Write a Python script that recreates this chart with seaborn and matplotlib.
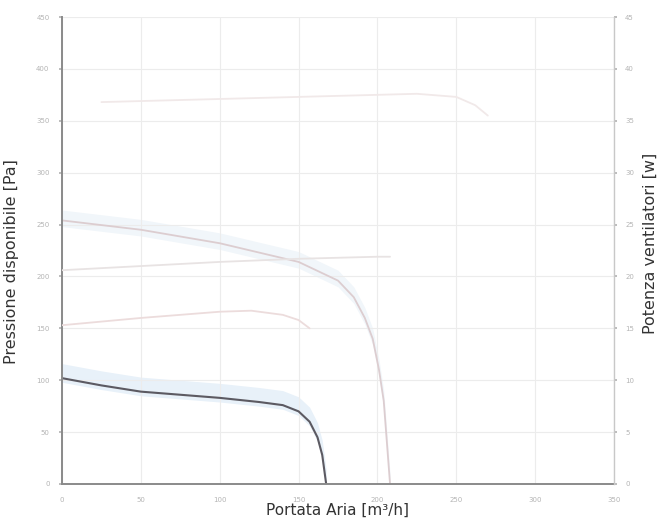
import matplotlib
matplotlib.use("Agg")
import matplotlib.pyplot as plt
import seaborn as sns
import pandas as pd
import numpy as np

# Pressure curves (left axis)
flow_low = [0, 25, 50, 75, 100, 125, 140, 150, 157, 162, 165, 167.5]
pres_low = [102, 95, 89, 86, 83, 79, 76, 70, 60, 45, 28, 0]

flow_high = [0, 50, 100, 150, 175, 185, 192, 197, 201, 204, 206, 208]
pres_high = [254, 245, 232, 214, 196, 180, 160, 140, 110, 80, 40, 0]

# Power curves (right axis)
flow_pw1 = [0, 50, 100, 120, 140, 150, 157]
pw1 = [15.3, 16.0, 16.6, 16.7, 16.3, 15.8, 15.0]

flow_pw2 = [0, 50, 100, 150, 200, 208]
pw2 = [20.6, 21.0, 21.4, 21.7, 21.9, 21.9]

flow_pw3 = [25, 75, 125, 175, 225, 250, 262, 270]
pw3 = [36.8, 37.0, 37.2, 37.4, 37.6, 37.3, 36.5, 35.5]

x_ticks = [0, 50, 100, 150, 200, 250, 300, 350]
y_ticks = [0, 50, 100, 150, 200, 250, 300, 350, 400, 450]
y2_ticks = [0, 5, 10, 15, 20, 25, 30, 35, 40, 45]

sns.set_theme(style="white")
plt.rcParams['font.family'] = ['DejaVu Sans']

fig = plt.figure(figsize=(6.61, 5.27), dpi=100)
ax = fig.add_axes([62/661, 1-484/527, (614-62)/661, (484-17)/527])
ax2 = ax.twinx()

# light blue bands
ax.fill_between(flow_low, np.array(pres_low) - 4, np.array(pres_low) + 14,
                color="#e8f1f9", lw=0, zorder=0)
ax.fill_between(flow_high, np.array(pres_high) - 6, np.array(pres_high) + 10,
                color="#f1f6fa", lw=0, zorder=0)

df_low = pd.DataFrame({"flow": flow_low, "p": pres_low})
df_high = pd.DataFrame({"flow": flow_high, "p": pres_high})
sns.lineplot(data=df_low, x="flow", y="p", ax=ax, color="#5c5a62", lw=1.5,
             sort=False, estimator=None)
sns.lineplot(data=df_high, x="flow", y="p", ax=ax, color="#dccdd0", lw=1.3,
             sort=False, estimator=None)

for fx, fy, c in [(flow_pw1, pw1, "#ecdcdc"), (flow_pw2, pw2, "#e8e3e3"),
                  (flow_pw3, pw3, "#f1e9e9")]:
    sns.lineplot(x=fx, y=fy, ax=ax2, color=c, lw=1.3, sort=False, estimator=None)

ax.set_xlim(0, 350)
ax.set_ylim(0, 450)
ax2.set_ylim(0, 45)
ax.set_xticks(x_ticks)
ax.set_yticks(y_ticks)
ax2.set_yticks(y2_ticks)
ax.grid(True, color="#ececec", lw=0.8)
ax2.grid(False)

tick_col = "#b4b4b4"
ax.tick_params(axis="both", labelsize=5, colors=tick_col, length=2, pad=7)
ax2.tick_params(axis="y", labelsize=5, colors=tick_col, length=2, pad=6)

for a in (ax, ax2):
    a.spines["top"].set_visible(False)
ax.spines["left"].set_color("#8a8a8a")
ax.spines["left"].set_linewidth(1.4)
ax.spines["bottom"].set_color("#8a8a8a")
ax.spines["bottom"].set_linewidth(1.4)
ax.spines["right"].set_visible(False)
ax2.spines["left"].set_visible(False)
ax2.spines["bottom"].set_visible(False)
ax2.spines["right"].set_color("#c8c8c8")
ax2.spines["right"].set_linewidth(1.0)

ax.set_xlabel("Portata Aria [m³/h]", fontsize=11, color="#333333", labelpad=0)
ax.set_ylabel("")
ax2.set_ylabel("")
fig.text(12/661, 1-262/527, "Pressione disponibile [Pa]", rotation=90,
         ha="center", va="center", fontsize=11.5, color="#333333")
fig.text(650/661, 1-243/527, "Potenza ventilatori [w]", rotation=90,
         ha="center", va="center", fontsize=11.5, color="#333333")

fig.savefig("out.png", dpi=100)
